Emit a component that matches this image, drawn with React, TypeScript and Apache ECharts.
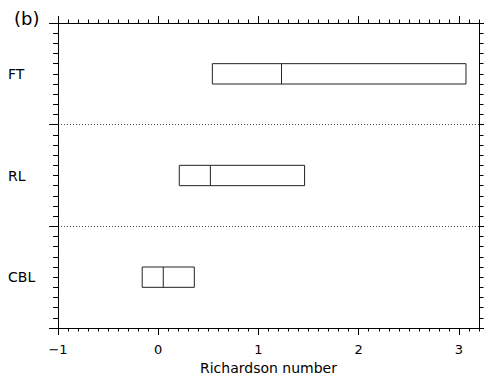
import React, { useEffect, useRef } from "react";
import * as echarts from "echarts";

const categories = ["CBL", "RL", "FT"];
const lows = [-0.16, 0.21, 0.54];
const medians = [0.05, 0.52, 1.23];
const highs = [0.36, 1.46, 3.07];
const xMajorTicks = [-1, 0, 1, 2, 3];
const xTitle = "Richardson number";
const panelLabel = "(b)";

const FONT = "DejaVu Sans";

export default function App() {
  const ref = useRef<HTMLDivElement>(null);
  useEffect(() => {
    if (!ref.current) return;
    const chart = echarts.init(ref.current, undefined, { renderer: "svg" });
    const fmt = (v: number) => (v < 0 ? "\u2212" + Math.abs(v) : String(v));
    const lineStyle = { color: "#000", width: 1 };
    const grid = { left: 58, right: 5, top: 23, bottom: 52 };
    const xBase = { type: "value", min: -1, max: 3.2, gridIndex: 0, splitLine: { show: false } };
    chart.setOption({
      animation: false,
      grid,
      xAxis: [
        {
          ...xBase,
          position: "bottom",
          axisLine: { show: true, onZero: false, lineStyle },
          axisTick: { show: true, length: 7, customValues: xMajorTicks, lineStyle },
          axisLabel: {
            show: true,
            customValues: xMajorTicks,
            formatter: fmt,
            margin: 15,
            fontFamily: FONT,
            fontSize: 13,
            color: "#000",
          },
          name: xTitle,
          nameLocation: "middle",
          nameGap: 31,
          nameTextStyle: { fontFamily: FONT, fontSize: 14, color: "#000" },
        },
        {
          ...xBase,
          position: "bottom",
          interval: 0.1,
          axisLine: { show: false, onZero: false },
          axisTick: { show: true, length: 3.5, lineStyle },
          axisLabel: { show: false },
        },
        {
          ...xBase,
          position: "top",
          axisLine: { show: true, onZero: false, lineStyle },
          axisTick: { show: true, length: 7, customValues: xMajorTicks, lineStyle },
          axisLabel: { show: false },
        },
        {
          ...xBase,
          position: "top",
          interval: 0.1,
          axisLine: { show: false, onZero: false },
          axisTick: { show: true, length: 3.5, lineStyle },
          axisLabel: { show: false },
        },
      ],
      yAxis: [
        {
          type: "value",
          min: 0,
          max: 3,
          interval: 1,
          position: "left",
          axisLine: { show: true, onZero: false, lineStyle },
          axisTick: { show: true, length: 9, lineStyle },
          minorTick: { show: true, splitNumber: 10, length: 5, lineStyle },
          axisLabel: { show: false },
          splitLine: {
            show: true,
            showMinLine: false,
            showMaxLine: false,
            lineStyle: { color: "#444", width: 1, type: [1, 2] },
          },
        },
        {
          type: "value",
          min: 0,
          max: 3,
          interval: 1,
          position: "right",
          axisLine: { show: true, onZero: false, lineStyle },
          axisTick: { show: true, length: 5, lineStyle },
          minorTick: { show: true, splitNumber: 10, length: 4.5, lineStyle },
          axisLabel: { show: false },
          splitLine: { show: false },
        },
        {
          type: "category",
          data: categories,
          position: "left",
          axisLine: { show: false, onZero: false },
          axisTick: { show: false },
          splitLine: { show: false },
          axisLabel: {
            show: true,
            align: "left",
            margin: 50,
            fontFamily: FONT,
            fontSize: 14,
            color: "#000",
          },
        },
      ],
      graphic: [
        {
          type: "text",
          left: 14,
          top: 9,
          style: { text: panelLabel, fontFamily: FONT, fontSize: 18, fill: "#000" },
        },
      ],
      series: [
        {
          type: "custom",
          xAxisIndex: 0,
          yAxisIndex: 2,
          encode: { x: [1, 2, 3], y: 0 },
          data: categories.map((c, i) => [i, lows[i], medians[i], highs[i]]),
          renderItem: (params: any, api: any) => {
            const yi = api.value(0);
            const pLo = api.coord([api.value(1), yi]);
            const pMed = api.coord([api.value(2), yi]);
            const pHi = api.coord([api.value(3), yi]);
            const h = api.size([0, 1])[1] * 0.2;
            const st = { stroke: "#222", lineWidth: 1 };
            return {
              type: "group",
              children: [
                {
                  type: "rect",
                  shape: { x: pLo[0], y: pLo[1] - h / 2, width: pHi[0] - pLo[0], height: h },
                  style: { ...st, fill: "none" },
                },
                {
                  type: "line",
                  shape: { x1: pMed[0], y1: pLo[1] - h / 2, x2: pMed[0], y2: pLo[1] + h / 2 },
                  style: st,
                },
              ],
            };
          },
        },
      ],
    });
    return () => chart.dispose();
  }, []);
  return (
    <div
      ref={ref}
      style={{ position: "absolute", left: 0, top: 0, width: 484, height: 380, background: "#fff" }}
    />
  );
}
